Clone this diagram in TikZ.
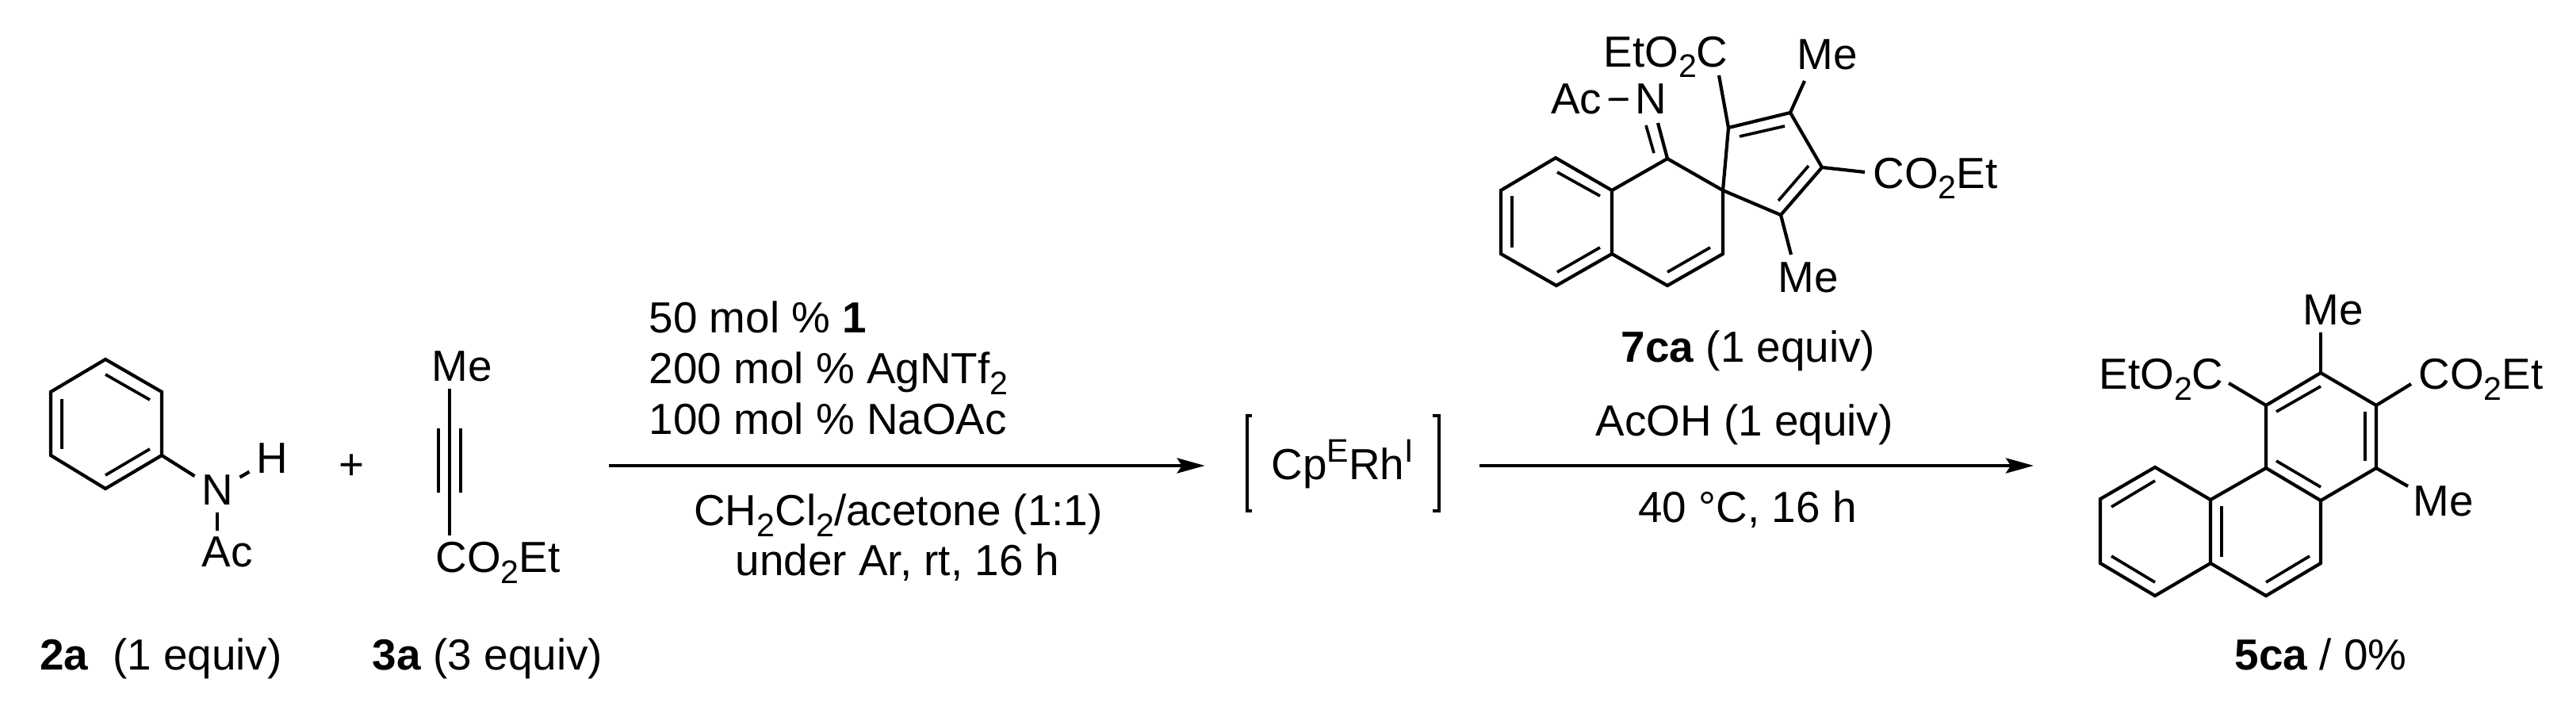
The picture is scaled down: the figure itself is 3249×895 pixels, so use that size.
\documentclass[tikz,border=0pt]{standalone}
\usepackage{fontspec}
\setmainfont{Liberation Sans}
\usetikzlibrary{arrows.meta}
\newcommand{\lo}[1]{\raisebox{-.13cm}{\fontsize{11.7}{14}\selectfont #1}}
\newcommand{\hi}[1]{\raisebox{.22cm}{\fontsize{11.7}{14}\selectfont #1}}
\tikzset{
	bond/.style={line width=.042cm},
	inner/.style={line width=.037cm},
	rxn/.style={line width=.042cm,-{Stealth[length=.35cm,width=.19cm,inset=.06cm]}},
	atom/.style={anchor=base,inner sep=.08cm},
	txt/.style={anchor=base,inner sep=0pt},
	every node/.style={font=\fontsize{15.6}{19}\selectfont}
}
\begin{document}
\begin{tikzpicture}[x=.01cm,y=-.01cm]
	\useasboundingbox (0,0) rectangle (3249,895);
	\coordinate (A1) at (133,453);
	\coordinate (A2) at (204,494);
	\coordinate (A3) at (204,574);
	\coordinate (A4) at (133,616);
	\coordinate (A5) at (64,574);
	\coordinate (A6) at (64,494);
	\coordinate (a1) at (133,472);
	\coordinate (a2) at (189,504);
	\coordinate (a3) at (78,503);
	\coordinate (a4) at (78,566);
	\coordinate (a5) at (189,566);
	\coordinate (a6) at (133,599);
	\node[atom] (NH) at (274,637) {N};
	\node[atom] (HN) at (343,597) {H};
	\node[atom] (AcN) at (287,715) {Ac};
	\draw[bond] (A1) -- (A2) -- (A3) -- (A4) -- (A5) -- (A6) -- cycle;
	\draw[inner] (a1) -- (a2);
	\draw[inner] (a3) -- (a4);
	\draw[inner] (a5) -- (a6);
	\draw[bond] (A3) -- (NH);
	\draw[bond] (NH) -- (HN);
	\draw[inner] (NH.south) -- (NH.south |- AcN.north);
	\node[txt] (plus) at (444,605) {+};
	\coordinate (Y1) at (567,580);
	\coordinate (Y2) at (553,540);
	\coordinate (Y3) at (553,621);
	\coordinate (Y4) at (581,540);
	\coordinate (Y5) at (581,621);
	\node[atom] (MeY) at (583,481) {Me};
	\node[atom] (EsY) at (628,722) {CO\lo{2}Et};
	\draw[inner] (Y1 |- MeY.south) -- (Y1 |- EsY.north);
	\draw[inner] (Y2) -- (Y3);
	\draw[inner] (Y4) -- (Y5);
	\node[txt] (lab2a) at (203,845) {\textbf{2a}\ \ (1 equiv)};
	\node[txt] (lab3a) at (615,845) {\textbf{3a} (3 equiv)};
	\node[txt,anchor=base west] (cond1) at (818,420) {50 mol \% \textbf{1}};
	\node[txt,anchor=base west] (cond2) at (818,484) {200 mol \% AgNTf\lo{2}};
	\node[txt,anchor=base west] (cond3) at (818,548) {100 mol \% NaOAc};
	\node[txt] (cond4) at (1133,663) {CH\lo{2}Cl\lo{2}/acetone (1:1)};
	\node[txt] (cond5) at (1132,726) {under Ar, rt, 16 h};
	\coordinate (R1) at (768,587);
	\coordinate (R2) at (2565,587);
	\node[anchor=base,inner xsep=.83cm,inner ysep=0pt] (cat) at (1693,605) {Cp\hi{E}Rh\hi{I}};
	\draw[rxn] (R1) -- (R1 -| cat.west);
	\draw[rxn] (R1 -| cat.east) -- (R2);
	\draw[inner] (1579,524) -- (1573,524) -- (1573,644) -- (1579,644);
	\draw[inner] (1807,524) -- (1815,524) -- (1815,644) -- (1807,644);
	\node[txt] (lab7ca) at (2205,457) {\textbf{7ca} (1 equiv)};
	\node[txt] (acoh) at (2200,550) {AcOH (1 equiv)};
	\node[txt] (temp) at (2204,659) {40 °C, 16 h};
	\coordinate (B1) at (1962,199);
	\coordinate (B2) at (2033,240);
	\coordinate (B3) at (2033,320);
	\coordinate (B4) at (1963,360);
	\coordinate (B5) at (1893,320);
	\coordinate (B6) at (1893,240);
	\coordinate (B7) at (2103,200);
	\coordinate (B8) at (2173,240);
	\coordinate (B9) at (2173,320);
	\coordinate (B10) at (2103,360);
	\coordinate (B11) at (2180,161);
	\coordinate (B12) at (2258,142);
	\coordinate (B13) at (2298,211);
	\coordinate (B14) at (2246,271);
	\coordinate (b1) at (1964,217);
	\coordinate (b2) at (2018,247);
	\coordinate (b3) at (1907,247);
	\coordinate (b4) at (1907,312);
	\coordinate (b5) at (1964,343);
	\coordinate (b6) at (2018,312);
	\coordinate (b7) at (2103,343);
	\coordinate (b8) at (2157,312);
	\coordinate (b9) at (2086,193);
	\coordinate (b10) at (2076,158);
	\coordinate (b11) at (2194,172);
	\coordinate (b12) at (2251,159);
	\coordinate (b13) at (2281,209);
	\coordinate (b14) at (2243,253);
	\coordinate (E1) at (2091,155);
	\coordinate (E2) at (2168,95);
	\coordinate (E3) at (2276,102);
	\coordinate (E4) at (2352,217);
	\coordinate (E5) at (2259,321);
	\node[atom] (AcI) at (1988,144) {Ac};
	\node[atom] (NI) at (2082,144) {N};
	\node[atom] (EsA) at (2101,85) {EtO\lo{2}C};
	\node[atom] (MeA) at (2305,88) {Me};
	\node[atom] (EsB) at (2441,238) {CO\lo{2}Et};
	\node[atom] (MeB) at (2281,369) {Me};
	\draw[bond] (B1) -- (B2) -- (B3) -- (B4) -- (B5) -- (B6) -- cycle;
	\draw[bond] (B2) -- (B7) -- (B8) -- (B9) -- (B10) -- (B3);
	\draw[bond] (B8) -- (B11) -- (B12) -- (B13) -- (B14) -- (B8);
	\draw[inner] (b1) -- (b2);
	\draw[inner] (b3) -- (b4);
	\draw[inner] (b5) -- (b6);
	\draw[inner] (b7) -- (b8);
	\draw[inner] (b9) -- (b10);
	\draw[inner] (b11) -- (b12);
	\draw[inner] (b13) -- (b14);
	\draw[inner] (AcI.east) -- (NI.west);
	\draw[bond] (B7) -- (E1);
	\draw[bond] (B11) -- (E2);
	\draw[bond] (B12) -- (E3);
	\draw[bond] (B13) -- (E4);
	\draw[bond] (B14) -- (E5);
	\coordinate (C1) at (2927,470);
	\coordinate (C2) at (2997,511);
	\coordinate (C3) at (2997,590);
	\coordinate (C4) at (2927,631);
	\coordinate (C5) at (2858,590);
	\coordinate (C6) at (2858,511);
	\coordinate (C7) at (2718,589);
	\coordinate (C8) at (2649,629);
	\coordinate (C9) at (2649,710);
	\coordinate (C10) at (2718,751);
	\coordinate (C11) at (2788,710);
	\coordinate (C12) at (2788,630);
	\coordinate (C13) at (2858,751);
	\coordinate (C14) at (2927,710);
	\coordinate (c1) at (2871,519);
	\coordinate (c2) at (2927,487);
	\coordinate (c3) at (2983,519);
	\coordinate (c4) at (2983,581);
	\coordinate (c5) at (2871,581);
	\coordinate (c6) at (2927,614);
	\coordinate (c7) at (2663,639);
	\coordinate (c8) at (2718,606);
	\coordinate (c9) at (2663,701);
	\coordinate (c10) at (2718,734);
	\coordinate (c11) at (2802,638);
	\coordinate (c12) at (2802,702);
	\coordinate (c13) at (2858,734);
	\coordinate (c14) at (2913,701);
	\coordinate (F1) at (3041,484);
	\coordinate (F2) at (2811,483);
	\coordinate (F3) at (3037,613);
	\node[atom] (MeC) at (2943,410) {Me};
	\node[atom] (EsC) at (3129,491) {CO\lo{2}Et};
	\node[atom] (EsD) at (2726,491) {EtO\lo{2}C};
	\node[atom] (MeD) at (3082,651) {Me};
	\draw[bond] (C1) -- (C2) -- (C3) -- (C4) -- (C5) -- (C6) -- cycle;
	\draw[bond] (C5) -- (C12) -- (C7) -- (C8) -- (C9) -- (C10) -- (C11) -- (C12);
	\draw[bond] (C11) -- (C13) -- (C14) -- (C4);
	\draw[inner] (c1) -- (c2);
	\draw[inner] (c3) -- (c4);
	\draw[inner] (c5) -- (c6);
	\draw[inner] (c7) -- (c8);
	\draw[inner] (c9) -- (c10);
	\draw[inner] (c11) -- (c12);
	\draw[inner] (c13) -- (c14);
	\draw[bond] (C1) -- (C1 |- MeC.south);
	\draw[bond] (C2) -- (F1);
	\draw[bond] (C6) -- (F2);
	\draw[bond] (C3) -- (F3);
	\node[txt] (lab5ca) at (2927,844) {\textbf{5ca} / 0\%};
\end{tikzpicture}
\end{document}
